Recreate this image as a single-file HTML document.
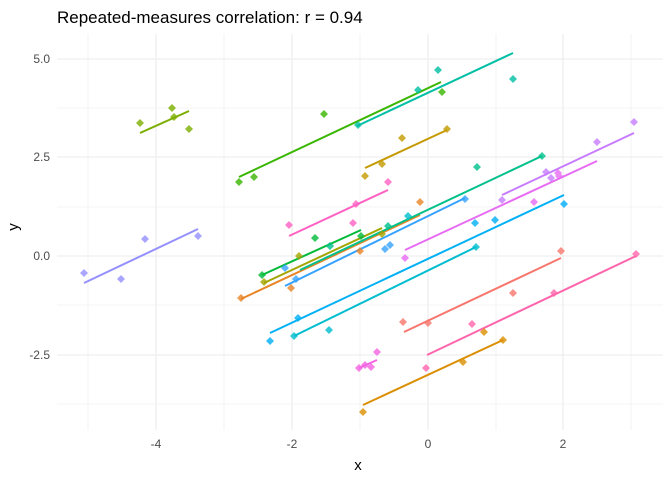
<!DOCTYPE html><html><head><style>body{margin:0;background:#fff}svg{display:block;font-family:"Liberation Sans",sans-serif}</style></head><body>
<svg width="672" height="480" viewBox="0 0 672 480">
<g stroke="#ebebeb" stroke-width="0.6"><line x1="88" y1="34" x2="88" y2="430"/><line x1="224" y1="34" x2="224" y2="430"/><line x1="360" y1="34" x2="360" y2="430"/><line x1="496" y1="34" x2="496" y2="430"/><line x1="631" y1="34" x2="631" y2="430"/>
<line x1="57" y1="108" x2="663" y2="108"/><line x1="57" y1="207" x2="663" y2="207"/><line x1="57" y1="305" x2="663" y2="305"/><line x1="57" y1="404" x2="663" y2="404"/></g>
<g stroke="#ebebeb" stroke-width="1.1"><line x1="156" y1="34" x2="156" y2="430"/><line x1="292" y1="34" x2="292" y2="430"/><line x1="428" y1="34" x2="428" y2="430"/><line x1="563" y1="34" x2="563" y2="430"/>
<line x1="57" y1="59" x2="663" y2="59"/><line x1="57" y1="157" x2="663" y2="157"/><line x1="57" y1="256" x2="663" y2="256"/><line x1="57" y1="355" x2="663" y2="355"/></g>
<g font-size="12" fill="#4d4d4d" text-anchor="end"><text x="50" y="63">5.0</text><text x="50" y="161">2.5</text><text x="50" y="260">0.0</text><text x="50" y="359">-2.5</text></g>
<g font-size="12" fill="#4d4d4d" text-anchor="middle"><text x="156" y="448">-4</text><text x="292" y="448">-2</text><text x="428" y="448">0</text><text x="563" y="448">2</text></g>
<text x="358" y="470" font-size="15" text-anchor="middle">x</text>
<text x="22" y="233" font-size="15" text-anchor="middle" transform="rotate(-90 17 232)">y</text>
<text x="57" y="23" font-size="17">Repeated-measures correlation: r = 0.94</text>
<g stroke-width="2" fill="none">
<line x1="140" y1="133" x2="189" y2="111" stroke="#7CAE00"/>
<line x1="84" y1="283" x2="198" y2="229" stroke="#9590FF"/>
<line x1="239" y1="177" x2="441" y2="82" stroke="#39B600"/>
<line x1="357" y1="126" x2="513" y2="53" stroke="#00BFA4"/>
<line x1="365" y1="168" x2="447" y2="130" stroke="#C49A00"/>
<line x1="289" y1="236" x2="388" y2="190" stroke="#FF61C3"/>
<line x1="241" y1="299" x2="420" y2="215" stroke="#E88526"/>
<line x1="262" y1="275" x2="361" y2="230" stroke="#00BA38"/>
<line x1="264" y1="283" x2="382" y2="228" stroke="#A3A500"/>
<line x1="300" y1="270" x2="542" y2="156" stroke="#00C08B"/>
<line x1="285" y1="286" x2="465" y2="198" stroke="#35A2FF"/>
<line x1="502" y1="195" x2="634" y2="133" stroke="#C77CFF"/>
<line x1="405" y1="250" x2="597" y2="161" stroke="#E76BF3"/>
<line x1="270" y1="333" x2="564" y2="195" stroke="#00B0F6"/>
<line x1="294" y1="336" x2="476" y2="247" stroke="#00BDD0"/>
<line x1="404" y1="332" x2="561" y2="258" stroke="#F8766D"/>
<line x1="427" y1="355" x2="636" y2="256" stroke="#FF65AC"/>
<line x1="359" y1="368" x2="377" y2="360" stroke="#F564E3"/>
<line x1="363" y1="405" x2="503" y2="340" stroke="#DB8E00"/>
</g>
<g opacity="0.8">
<defs><path id="d" d="M0,-4L4,0L0,4L-4,0Z"/></defs>
<g fill="#7CAE00"><use href="#d" x="140" y="123"/><use href="#d" x="172" y="108"/><use href="#d" x="174" y="117"/><use href="#d" x="189" y="129"/></g>
<g fill="#9590FF"><use href="#d" x="84" y="273"/><use href="#d" x="121" y="279"/><use href="#d" x="145" y="239"/><use href="#d" x="198" y="236"/></g>
<g fill="#39B600"><use href="#d" x="239" y="182"/><use href="#d" x="254" y="177"/><use href="#d" x="324" y="114"/><use href="#d" x="442" y="92"/></g>
<g fill="#00BFA4"><use href="#d" x="358" y="125"/><use href="#d" x="418" y="90"/><use href="#d" x="438" y="70"/><use href="#d" x="513" y="79"/></g>
<g fill="#C49A00"><use href="#d" x="365" y="176"/><use href="#d" x="382" y="164"/><use href="#d" x="402" y="138"/><use href="#d" x="447" y="129"/></g>
<g fill="#FF61C3"><use href="#d" x="289" y="225"/><use href="#d" x="353" y="223"/><use href="#d" x="356" y="204"/><use href="#d" x="388" y="182"/></g>
<g fill="#E88526"><use href="#d" x="241" y="298"/><use href="#d" x="291" y="288"/><use href="#d" x="360" y="251"/><use href="#d" x="420" y="202"/></g>
<g fill="#00BA38"><use href="#d" x="262" y="275"/><use href="#d" x="315" y="238"/><use href="#d" x="330" y="246"/><use href="#d" x="361" y="236"/></g>
<g fill="#A3A500"><use href="#d" x="264" y="282"/><use href="#d" x="299" y="256"/><use href="#d" x="382" y="234"/></g>
<g fill="#00C08B"><use href="#d" x="388" y="226"/><use href="#d" x="477" y="167"/><use href="#d" x="542" y="156"/><use href="#d" x="330" y="246"/></g>
<g fill="#35A2FF"><use href="#d" x="285" y="268"/><use href="#d" x="296" y="279"/><use href="#d" x="385" y="249"/><use href="#d" x="390" y="245"/><use href="#d" x="465" y="199"/></g>
<g fill="#C77CFF"><use href="#d" x="502" y="200"/><use href="#d" x="546" y="172"/><use href="#d" x="551" y="178"/><use href="#d" x="597" y="142"/><use href="#d" x="634" y="122"/></g>
<g fill="#E76BF3"><use href="#d" x="405" y="258"/><use href="#d" x="534" y="202"/><use href="#d" x="558" y="173"/><use href="#d" x="559" y="176"/></g>
<g fill="#00B0F6"><use href="#d" x="270" y="341"/><use href="#d" x="298" y="318"/><use href="#d" x="475" y="223"/><use href="#d" x="495" y="220"/><use href="#d" x="564" y="204"/></g>
<g fill="#00BDD0"><use href="#d" x="294" y="336"/><use href="#d" x="329" y="330"/><use href="#d" x="476" y="247"/><use href="#d" x="408" y="216"/></g>
<g fill="#F8766D"><use href="#d" x="403" y="322"/><use href="#d" x="428" y="323"/><use href="#d" x="513" y="293"/><use href="#d" x="561" y="251"/></g>
<g fill="#FF65AC"><use href="#d" x="426" y="368"/><use href="#d" x="472" y="324"/><use href="#d" x="554" y="293"/><use href="#d" x="636" y="254"/></g>
<g fill="#F564E3"><use href="#d" x="359" y="368"/><use href="#d" x="365" y="365"/><use href="#d" x="371" y="367"/><use href="#d" x="377" y="352"/></g>
<g fill="#DB8E00"><use href="#d" x="363" y="412"/><use href="#d" x="463" y="362"/><use href="#d" x="484" y="332"/><use href="#d" x="503" y="340"/></g>
</g>
</svg></body></html>
